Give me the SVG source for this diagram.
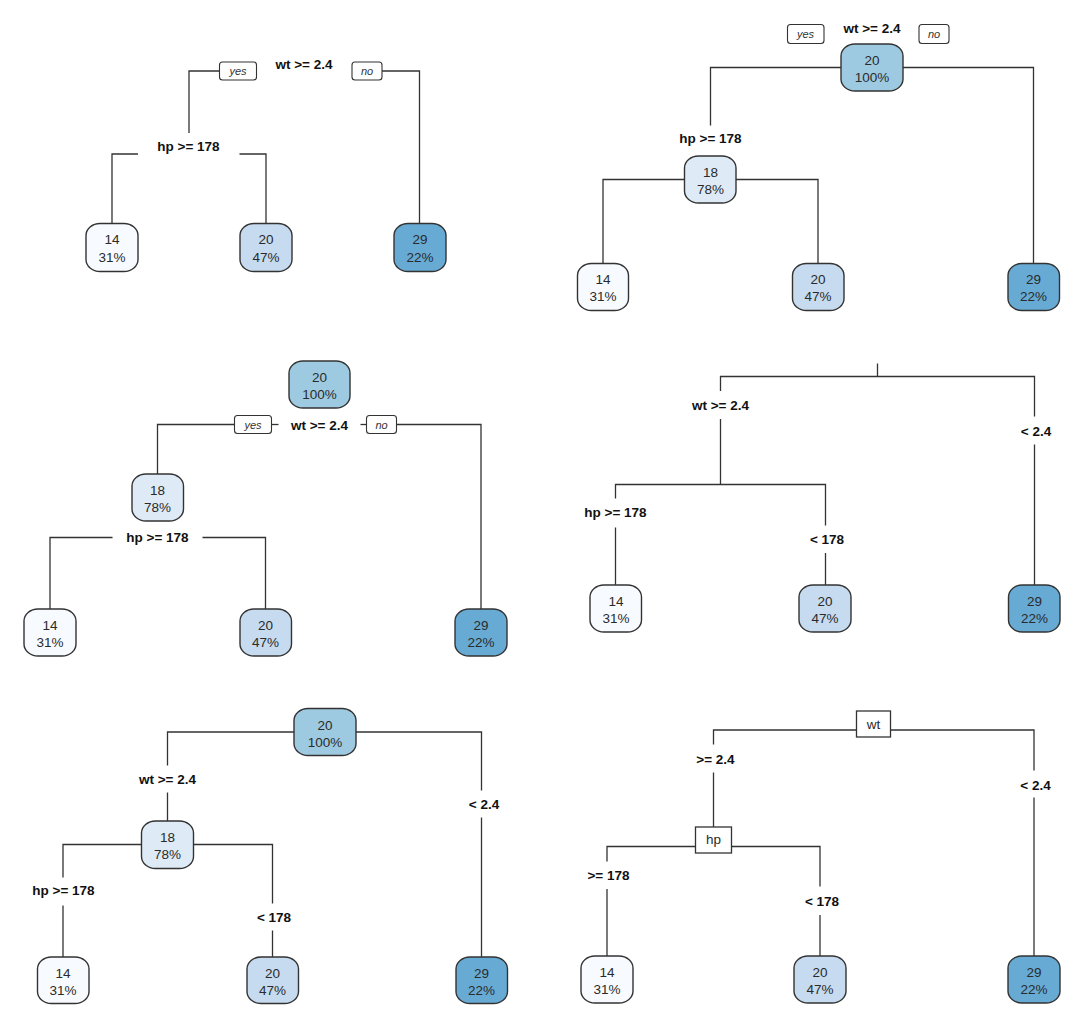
<svg xmlns="http://www.w3.org/2000/svg" width="1080" height="1019" viewBox="0 0 1080 1019">
<style>
.bg{fill:#fff}
.n{stroke:#333;stroke-width:1.4}
.c0{fill:#F7FBFF}.c1{fill:#C6DBEF}.c2{fill:#67ABD5}.c3{fill:#9ECAE1}.c4{fill:#DEEBF7}
.nt{font-family:"Liberation Sans",Arial,sans-serif;font-size:13.5px;fill:#2a2a2a;text-anchor:middle}
.lb{font-family:"Liberation Sans",Arial,sans-serif;font-size:13.5px;font-weight:bold;fill:#111;text-anchor:middle}
.yn{font-family:"Liberation Sans",Arial,sans-serif;font-size:11px;font-style:italic;fill:#333;text-anchor:middle}
.box{fill:#fff;stroke:#333;stroke-width:1.1}
.sq{fill:#fff;stroke:#333;stroke-width:1.3}
.e{fill:none;stroke:#333;stroke-width:1.3}
</style>
<rect class="bg" x="0" y="0" width="1080" height="1019"/>

<!-- connectors -->
<g id="connectors">
  <!-- panel 1 -->
  <path class="e" d="M219,71 H189 V133"/>
  <path class="e" d="M382,71 H419.5 V223.5"/>
  <path class="e" d="M138,154 H112 V223.5"/>
  <path class="e" d="M239.5,154 H266 V223.5"/>
  <!-- panel 2 -->
  <path class="e" d="M841,67.5 H710.5 V125.5"/>
  <path class="e" d="M902.5,67.5 H1033.5 V263.5"/>
  <path class="e" d="M684.5,179.5 H603 V263.5"/>
  <path class="e" d="M736,179.5 H818 V263.5"/>
  <!-- panel 3 -->
  <path class="e" d="M234.5,424.5 H157.5 V474"/>
  <path class="e" d="M271.5,424.5 H278.5"/>
  <path class="e" d="M360.5,424.5 H366.5"/>
  <path class="e" d="M396.5,424.5 H481 V609"/>
  <path class="e" d="M112.5,537.5 H50 V609"/>
  <path class="e" d="M202.5,537.5 H265.5 V609"/>
  <!-- panel 4 -->
  <path class="e" d="M877.5,363.5 V376.5"/>
  <path class="e" d="M720.5,391 V376.5 H1034.5 V416.5"/>
  <path class="e" d="M1034.5,444.5 V585"/>
  <path class="e" d="M720.5,419 V484.5"/>
  <path class="e" d="M615.5,498.5 V484.5 H825.5 V525.5"/>
  <path class="e" d="M615.5,527.5 V585"/>
  <path class="e" d="M825.5,553 V585"/>
  <!-- panel 5 -->
  <path class="e" d="M294,732 H167.5 V765.5"/>
  <path class="e" d="M167.5,792.5 V821"/>
  <path class="e" d="M356,732 H481.5 V790.5"/>
  <path class="e" d="M481.5,817.5 V957"/>
  <path class="e" d="M141.5,844.5 H63 V877.5"/>
  <path class="e" d="M63,905.5 V957"/>
  <path class="e" d="M193.5,844.5 H272.5 V903.5"/>
  <path class="e" d="M272.5,930.5 V957"/>
  <!-- panel 6 -->
  <path class="e" d="M856.5,730 H713.5 V744.5"/>
  <path class="e" d="M713.5,772.5 V827"/>
  <path class="e" d="M890.5,730 H1034 V770.5"/>
  <path class="e" d="M1034,797.5 V956"/>
  <path class="e" d="M695.5,846.5 H607 V861.5"/>
  <path class="e" d="M607,889 V956"/>
  <path class="e" d="M731.5,846.5 H820 V886.5"/>
  <path class="e" d="M820,915 V956"/>
</g>

<!-- ===== Panel 1 ===== -->
<g id="p1-split-wt">
  <rect class="box" x="219.5" y="62" width="37" height="18" rx="3"/>
  <text class="yn" x="238" y="75">yes</text>
  <text class="lb" x="304" y="69">wt &gt;= 2.4</text>
  <rect class="box" x="352" y="62" width="30" height="18" rx="3"/>
  <text class="yn" x="367" y="75">no</text>
</g>
<g id="p1-split-hp"><text class="lb" x="188.5" y="150.5">hp &gt;= 178</text></g>
<g id="p1-leaf14"><rect class="n c0" x="86" y="223.5" width="52" height="48" rx="14" ry="12"/><text class="nt" x="112" y="244">14</text><text class="nt" x="112" y="261.5">31%</text></g>
<g id="p1-leaf20"><rect class="n c1" x="240" y="223.5" width="52" height="48" rx="14" ry="12"/><text class="nt" x="266" y="244">20</text><text class="nt" x="266" y="261.5">47%</text></g>
<g id="p1-leaf29"><rect class="n c2" x="394" y="223.5" width="52" height="48" rx="14" ry="12"/><text class="nt" x="420" y="244">29</text><text class="nt" x="420" y="261.5">22%</text></g>

<!-- ===== Panel 2 ===== -->
<g id="p2-root">
  <rect class="box" x="787.5" y="24.5" width="36.5" height="19" rx="3"/>
  <text class="yn" x="805.5" y="38">yes</text>
  <text class="lb" x="872" y="32.5">wt &gt;= 2.4</text>
  <rect class="box" x="919" y="24.5" width="30" height="19" rx="3"/>
  <text class="yn" x="934" y="38">no</text>
  <rect class="n c3" x="841" y="44" width="62" height="47" rx="14" ry="12"/>
  <text class="nt" x="872" y="65">20</text><text class="nt" x="872" y="82">100%</text>
</g>
<g id="p2-node18">
  <text class="lb" x="710.5" y="142.5">hp &gt;= 178</text>
  <rect class="n c4" x="684.5" y="156" width="51.5" height="47" rx="14" ry="12"/>
  <text class="nt" x="710.5" y="177">18</text><text class="nt" x="710.5" y="194">78%</text>
</g>
<g id="p2-leaf14"><rect class="n c0" x="577.5" y="263.5" width="51" height="47" rx="14" ry="12"/><text class="nt" x="603" y="284">14</text><text class="nt" x="603" y="301">31%</text></g>
<g id="p2-leaf20"><rect class="n c1" x="792.5" y="263.5" width="51.5" height="47" rx="14" ry="12"/><text class="nt" x="818" y="284">20</text><text class="nt" x="818" y="301">47%</text></g>
<g id="p2-leaf29"><rect class="n c2" x="1008" y="263.5" width="51.5" height="47" rx="14" ry="12"/><text class="nt" x="1033.5" y="284">29</text><text class="nt" x="1033.5" y="301">22%</text></g>

<!-- ===== Panel 3 ===== -->
<g id="p3-root">
  <rect class="n c3" x="289" y="361" width="61" height="47" rx="14" ry="12"/>
  <text class="nt" x="319.5" y="382">20</text><text class="nt" x="319.5" y="399">100%</text>
  <rect class="box" x="234.5" y="415.5" width="37" height="18" rx="3"/>
  <text class="yn" x="253" y="428.5">yes</text>
  <text class="lb" x="319.5" y="429.5">wt &gt;= 2.4</text>
  <rect class="box" x="366.5" y="415.5" width="30" height="18" rx="3"/>
  <text class="yn" x="381.5" y="428.5">no</text>
</g>
<g id="p3-node18">
  <rect class="n c4" x="132" y="474" width="51.5" height="47" rx="14" ry="12"/>
  <text class="nt" x="157.5" y="495">18</text><text class="nt" x="157.5" y="512">78%</text>
  <text class="lb" x="157.5" y="541.5">hp &gt;= 178</text>
</g>
<g id="p3-leaf14"><rect class="n c0" x="24" y="609" width="52" height="47" rx="14" ry="12"/><text class="nt" x="50" y="630">14</text><text class="nt" x="50" y="647">31%</text></g>
<g id="p3-leaf20"><rect class="n c1" x="240" y="609" width="51.5" height="47" rx="14" ry="12"/><text class="nt" x="265.5" y="630">20</text><text class="nt" x="265.5" y="647">47%</text></g>
<g id="p3-leaf29"><rect class="n c2" x="455" y="609" width="52" height="47" rx="14" ry="12"/><text class="nt" x="481" y="630">29</text><text class="nt" x="481" y="647">22%</text></g>

<!-- ===== Panel 4 ===== -->
<g id="p4-label-wt"><text class="lb" x="720.5" y="410">wt &gt;= 2.4</text></g>
<g id="p4-label-lt24"><text class="lb" x="1036" y="436">&lt; 2.4</text></g>
<g id="p4-label-hp"><text class="lb" x="615.5" y="517">hp &gt;= 178</text></g>
<g id="p4-label-lt178"><text class="lb" x="827" y="544">&lt; 178</text></g>
<g id="p4-leaf14"><rect class="n c0" x="590" y="585" width="51.5" height="47" rx="14" ry="12"/><text class="nt" x="616" y="606">14</text><text class="nt" x="616" y="623">31%</text></g>
<g id="p4-leaf20"><rect class="n c1" x="799" y="585" width="52" height="47" rx="14" ry="12"/><text class="nt" x="825" y="606">20</text><text class="nt" x="825" y="623">47%</text></g>
<g id="p4-leaf29"><rect class="n c2" x="1008.5" y="585" width="51.5" height="47" rx="14" ry="12"/><text class="nt" x="1034.5" y="606">29</text><text class="nt" x="1034.5" y="623">22%</text></g>

<!-- ===== Panel 5 ===== -->
<g id="p5-root">
  <rect class="n c3" x="294" y="708.5" width="62" height="47" rx="14" ry="12"/>
  <text class="nt" x="325" y="729.5">20</text><text class="nt" x="325" y="746.5">100%</text>
</g>
<g id="p5-label-wt"><text class="lb" x="167.5" y="783.5">wt &gt;= 2.4</text></g>
<g id="p5-label-lt24"><text class="lb" x="484" y="809">&lt; 2.4</text></g>
<g id="p5-node18">
  <rect class="n c4" x="141.5" y="821" width="52" height="47.5" rx="14" ry="12"/>
  <text class="nt" x="167.5" y="842">18</text><text class="nt" x="167.5" y="859">78%</text>
</g>
<g id="p5-label-hp"><text class="lb" x="63.5" y="895">hp &gt;= 178</text></g>
<g id="p5-label-lt178"><text class="lb" x="274" y="922">&lt; 178</text></g>
<g id="p5-leaf14"><rect class="n c0" x="37.5" y="957" width="51.5" height="46.5" rx="14" ry="12"/><text class="nt" x="63" y="978">14</text><text class="nt" x="63" y="995">31%</text></g>
<g id="p5-leaf20"><rect class="n c1" x="247" y="957" width="51.5" height="46.5" rx="14" ry="12"/><text class="nt" x="272.5" y="978">20</text><text class="nt" x="272.5" y="995">47%</text></g>
<g id="p5-leaf29"><rect class="n c2" x="456" y="957" width="51.5" height="46.5" rx="14" ry="12"/><text class="nt" x="481.5" y="978">29</text><text class="nt" x="481.5" y="995">22%</text></g>

<!-- ===== Panel 6 ===== -->
<g id="p6-wt"><rect class="sq" x="856.5" y="711" width="34" height="26"/><text class="nt" x="873.5" y="728.5">wt</text></g>
<g id="p6-label-ge24"><text class="lb" x="715.5" y="763.5">&gt;= 2.4</text></g>
<g id="p6-label-lt24"><text class="lb" x="1035.5" y="789.5">&lt; 2.4</text></g>
<g id="p6-hp"><rect class="sq" x="695.5" y="827" width="36" height="26"/><text class="nt" x="713.5" y="844">hp</text></g>
<g id="p6-label-ge178"><text class="lb" x="608.5" y="880">&gt;= 178</text></g>
<g id="p6-label-lt178"><text class="lb" x="822" y="906">&lt; 178</text></g>
<g id="p6-leaf14"><rect class="n c0" x="581" y="956" width="52" height="47" rx="14" ry="12"/><text class="nt" x="607" y="977">14</text><text class="nt" x="607" y="994">31%</text></g>
<g id="p6-leaf20"><rect class="n c1" x="794" y="956" width="52" height="47" rx="14" ry="12"/><text class="nt" x="820" y="977">20</text><text class="nt" x="820" y="994">47%</text></g>
<g id="p6-leaf29"><rect class="n c2" x="1008" y="956" width="52" height="47" rx="14" ry="12"/><text class="nt" x="1034" y="977">29</text><text class="nt" x="1034" y="994">22%</text></g>
</svg>
